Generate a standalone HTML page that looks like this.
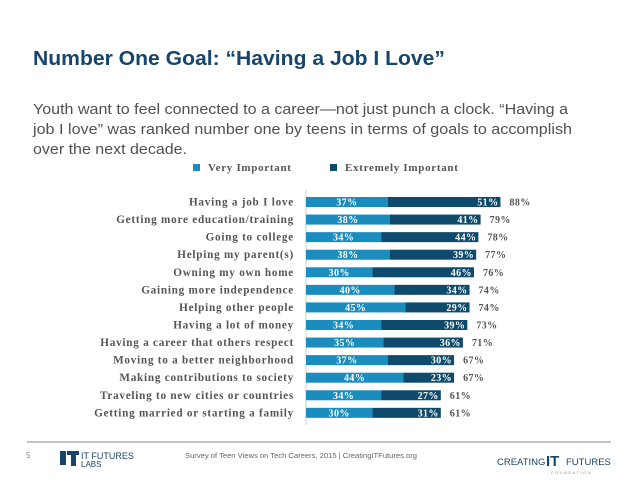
<!DOCTYPE html>
<html><head><meta charset="utf-8"><style>
body{margin:0;background:#fff;width:638px;height:479px;overflow:hidden;font-family:"Liberation Sans",sans-serif}
</style></head><body>
<svg width="638" height="479" viewBox="0 0 638 479" xmlns="http://www.w3.org/2000/svg">
<text x="33" y="65" font-family="Liberation Sans, sans-serif" font-weight="bold" font-size="20.5" fill="#17456b" textLength="412" lengthAdjust="spacingAndGlyphs">Number One Goal: “Having a Job I Love”</text>
<g font-family="Liberation Sans, sans-serif" font-size="15" fill="#505050">
<text x="33" y="114" textLength="535" lengthAdjust="spacingAndGlyphs">Youth want to feel connected to a career—not just punch a clock. “Having a</text>
<text x="33" y="134" textLength="539" lengthAdjust="spacingAndGlyphs">job I love” was ranked number one by teens in terms of goals to accomplish</text>
<text x="33" y="154" textLength="154" lengthAdjust="spacingAndGlyphs">over the next decade.</text>
</g>
<g font-family="Liberation Serif, serif" font-weight="bold" font-size="11" fill="#555" letter-spacing="0.7">
<rect x="193" y="164" width="7" height="7" fill="#1a8cbd"/>
<text x="208" y="171">Very Important</text>
<rect x="330" y="164" width="7" height="7" fill="#0e4a6c"/>
<text x="345" y="171">Extremely Important</text>
</g>
<line x1="306" y1="190" x2="306" y2="425" stroke="#ccc" stroke-width="1"/>
<g id="chart"></g>
<line x1="27" y1="442" x2="611" y2="442" stroke="#888" stroke-width="1"/>
<text x="26" y="458" font-size="8" fill="#888">5</text>
<g>
<rect x="60" y="451" width="6" height="14" fill="#17456b"/>
<rect x="67" y="451" width="12" height="4" fill="#17456b"/>
<rect x="71" y="451" width="5" height="15" fill="#17456b"/>
<text x="81" y="459" font-size="9" fill="#17456b">IT FUTURES</text>
<text x="81" y="467" font-size="8" fill="#17456b">LABS</text>
</g>
<text x="185" y="458" font-size="7.6" fill="#666">Survey of Teen Views on Tech Careers, 2015  |  CreatingITFutures.org</text>
<g>
<text x="497" y="465" font-size="9.5" fill="#17456b">CREATING</text>
<text x="546" y="466" font-size="15" font-weight="bold" fill="#17456b">IT</text>
<text x="566" y="465" font-size="9.5" fill="#17456b">FUTURES</text>
<text x="551" y="474" font-size="4" fill="#999" letter-spacing="1.5">FOUNDATION</text>
</g>
</svg>
<script>
const categories=["Having a job I love","Getting more education/training","Going to college","Helping my parent(s)","Owning my own home","Gaining more independence","Helping other people","Having a lot of money","Having a career that others respect","Moving to a better neighborhood","Making contributions to society","Traveling to new cities or countries","Getting married or starting a family"];
const veryImportant=[37,38,34,38,30,40,45,34,35,37,44,34,30];
const extremelyImportant=[51,41,44,39,46,34,29,39,36,30,23,27,31];
const totals=[88,79,78,77,76,74,74,73,71,67,67,61,61];
const NS="http://www.w3.org/2000/svg";
const x0=306,pxPer=2.21,y0=202,step=17.57,bh=10;
const xs=v=>x0+v*pxPer;
const ys=i=>y0+i*step;
const g=document.getElementById('chart');
function mk(tag,attrs,txt){const e=document.createElementNS(NS,tag);for(const k in attrs)e.setAttribute(k,attrs[k]);if(txt!=null)e.textContent=txt;g.appendChild(e);return e;}
categories.forEach((c,i)=>{
  const cy=ys(i);
  const l=mk('text',{x:294,y:cy+3.5,'text-anchor':'end','font-family':'Liberation Serif, serif','font-weight':'bold','font-size':'11.2',fill:'#555','letter-spacing':'0.75'},c);
  
  
  const a=mk('rect',{x:x0,y:cy-bh/2,width:xs(veryImportant[i])-x0,height:bh,fill:'#1a8cbd'});
  
  
  const b=mk('rect',{x:xs(veryImportant[i]),y:cy-bh/2,width:xs(veryImportant[i]+extremelyImportant[i])-xs(veryImportant[i]),height:bh,fill:'#0e4a6c'});
  
  
  const t1=mk('text',{x:(x0+xs(veryImportant[i]))/2,y:cy+3.5,'text-anchor':'middle','font-family':'Liberation Serif, serif','font-weight':'bold','font-size':'10',fill:'#fff','letter-spacing':'0.4'},veryImportant[i]+'%');
  
  
  const end=xs(veryImportant[i]+extremelyImportant[i]);
  const t2=mk('text',{x:end-2,y:cy+3.5,'text-anchor':'end','font-family':'Liberation Serif, serif','font-weight':'bold','font-size':'10',fill:'#fff','letter-spacing':'0.4'},extremelyImportant[i]+'%');
  
  
  const t3=mk('text',{x:end+9,y:cy+3.5,'font-family':'Liberation Serif, serif','font-weight':'bold','font-size':'10',fill:'#555','letter-spacing':'0.4'},totals[i]+'%');
  
  
});
</script>
</body></html>
